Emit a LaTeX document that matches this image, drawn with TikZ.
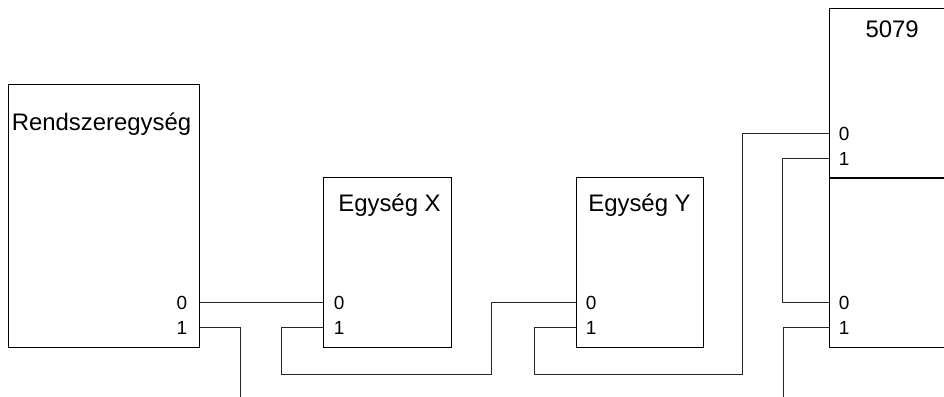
\documentclass[tikz,border=0pt]{standalone}
\usepackage{fontspec}
\setmainfont{Liberation Sans}
\begin{document}
\begin{tikzpicture}[x=0.025cm,y=-0.025cm,
    unit/.style={draw,line width=0.7pt,inner sep=0pt,minimum width=3.175cm,minimum height=4.225cm},
    wire/.style={line width=0.5pt,black!85},
    title/.style={font=\fontsize{17}{20}\selectfont,inner sep=0pt},
    port/.style={font=\fontsize{13.5}{16}\selectfont,inner sep=0pt}]
	\useasboundingbox (0,0) rectangle (944,396);
	\clip (0,0) rectangle (944,396);

	% units
	\node[unit,minimum width=4.75cm,minimum height=6.55cm] (sys) at (104,216) {};
	\node[unit] (ux) at (387.5,262.5) {};
	\node[unit] (uy) at (639.5,262.5) {};
	\node[unit,minimum width=3.275cm] (top) at (894.5,93.5) {};
	\node[unit,minimum width=3.275cm] (bot) at (894.5,262.5) {};

	\node[title,anchor=west] (sysname) at ([xshift=0.075cm,yshift=-1cm]sys.north west) {Rendszeregység};
	\node[title] (uxname) at ([xshift=0.05cm,yshift=-0.7cm]ux.north) {Egység X};
	\node[title] (uyname) at ([yshift=-0.7cm]uy.north) {Egység Y};
	\node[title] (topname) at ([xshift=-0.06cm,yshift=-0.53cm]top.north) {5079};

	% ports
	\foreach \u in {sys,ux,uy,top,bot} {
		\coordinate (\u0) at ([yshift=1.125cm]\u.south west);
		\coordinate (\u1) at ([yshift=0.5cm]\u.south west);
	}
	\coordinate (sys0) at ([yshift=1.125cm]sys.south east);
	\coordinate (sys1) at ([yshift=0.5cm]sys.south east);

	\node[port,anchor=east] (sysl0) at ([xshift=-0.3cm]sys0) {0};
	\node[port,anchor=east] (sysl1) at ([xshift=-0.3cm]sys1) {1};
	\foreach \u in {ux,uy,top,bot} {
		\node[port,anchor=west] (\u l0) at ([xshift=0.25cm]\u0) {0};
		\node[port,anchor=west] (\u l1) at ([xshift=0.25cm]\u1) {1};
	}

	% loop wiring
	\coordinate (outa) at (240,400);
	\coordinate (outb) at (783,400);
	\draw[wire] (sys0) -- (ux0);
	\draw[wire] (sys1) -| (outa);
	\draw[wire] (ux1) -- ++(-42,0) |- ++(210,47) |- (uy0);
	\draw[wire] (uy1) -- ++(-41,0) |- ++(208,47) |- (top0);
	\draw[wire] (top1) -- ++(-46,0) |- (bot0);
	\draw[wire] (bot1) -| (outb);
\end{tikzpicture}
\end{document}
